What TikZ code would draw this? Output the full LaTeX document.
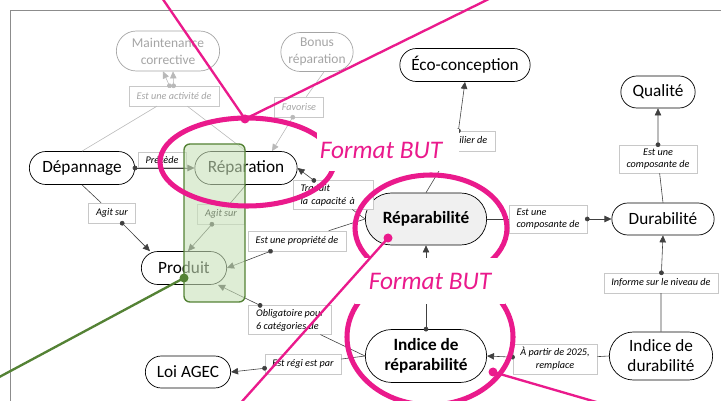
\documentclass[tikz,border=0pt]{standalone}
\usepackage{fontspec}
\setmainfont{Carlito}
\usepackage{tikz}
\usetikzlibrary{shapes.misc}
\usetikzlibrary{arrows.meta}
\definecolor{butpink}{RGB}{234,26,140}
\definecolor{boxgreen}{RGB}{84,130,53}
\definecolor{boxgreenfill}{RGB}{200,225,185}
\definecolor{framegray}{RGB}{140,140,140}
\definecolor{conceptgray}{RGB}{165,165,165}
\definecolor{linkgray}{RGB}{185,185,185}
\definecolor{lblgray}{RGB}{200,200,200}
\definecolor{repagray}{RGB}{240,240,240}
\tikzset{
  concept/.style = {rounded rectangle, draw=black, line width=0.6pt, fill=white,
    align=center, inner sep=2pt, minimum height=0.99cm,
    font=\fontsize{14.7}{17}\selectfont},% concept noir
  concept_g/.style = {concept, draw=conceptgray, text=conceptgray,
    font=\fontsize{11.5}{14.5}\selectfont},% concept gris
  concept_b/.style = {concept, font=\fontsize{14.7}{17}\selectfont\bfseries},
  lbl/.style = {rectangle, draw=lblgray, line width=0.4pt, fill=white,
    inner xsep=6.5pt, inner ysep=3pt, minimum height=0.6cm,
    font=\fontsize{8.7}{11}\selectfont\itshape},% etiquette de lien
  lbl_g/.style = {lbl, text=conceptgray},
  link/.style = {draw=black!75, line width=0.5pt, shorten <=-2pt,
    {Circle[length=4pt]}-{Triangle[length=6pt,width=5.5pt]}},
  link_g/.style = {link, draw=linkgray},
  butring/.style = {draw=butpink, line width=4.3pt},
  butline/.style = {draw=butpink, line width=2pt},
  butlbl/.style = {fill=white, text=butpink, inner sep=0.09cm,
    font=\fontsize{21.6}{24}\selectfont\itshape},
  greenbox/.style = {draw=boxgreen, line width=1.2pt, fill=boxgreenfill,
    fill opacity=0.6, rounded corners=5pt},
}

\begin{document}
\begin{tikzpicture}[x=0.03cm,y=-0.03cm]
  \useasboundingbox (0,0) rectangle (721,401);
  \clip (0,0) rectangle (721,401);
  \draw[framegray, line width=0.8pt] (10,10) rectangle (740,420);

  % concepts
  \node[concept_g, minimum width=3.24cm, minimum height=1.2cm] (maint) at (168,51) {Maintenance\\corrective};
  \node[concept_g, minimum width=2.31cm, minimum height=1.17cm] (bonus) at (317,52) {Bonus\\réparation};
  \node[concept, minimum width=3.3cm] (dep) at (82,168) {Dépannage};
  \node[concept, minimum width=3.21cm] (rep) at (246,168) {Réparation};
  \node[concept, minimum width=4.05cm] (eco) at (465,65) {Éco-conception};
  \node[concept, minimum width=2.37cm, minimum height=0.96cm] (qual) at (658,92) {Qualité};
  \node[concept_b, fill=repagray, minimum width=3.78cm, minimum height=1.56cm] (repa) at (426,219) {Réparabilité};
  \node[concept, minimum width=3.21cm, minimum height=0.96cm] (dura) at (663,219) {Durabilité};
  \node[concept_b, minimum width=3.78cm, minimum height=1.59cm] (irep) at (426,356) {Indice de\\réparabilité};
  \node[concept, minimum width=3.24cm, minimum height=1.44cm] (idur) at (661,356) {Indice de\\durabilité};
  \node[concept, minimum width=2.7cm] (prod) at (184,268) {Produit};
  \node[concept, minimum width=2.7cm, minimum height=0.96cm] (loi) at (188,372) {Loi AGEC};

  % etiquettes
  \node[lbl_g] (l_act) at (174,96) {Est une activité de};
  \node[lbl_g] (l_fav) at (299,107) {Favorise};
  \node[lbl, minimum height=0.45cm, inner ysep=1pt] (l_prec) at (162,160) {Précède};
  \node[lbl] (l_agit1) at (112,213) {Agit sur};
  \node[lbl] (l_agit2) at (221,214) {Agit sur};
  \node[lbl, align=left, text width=1.95cm] (l_trad) at (333,195) {Traduit\\la capacité à};
  \node[lbl] (l_prop) at (297,241) {Est une propriété de};
  \node[lbl] (l_pil) at (457,141) {Est un pilier de};
  \node[lbl, align=left] (l_comp2) at (548,219) {Est une\\composante de};
  \node[lbl, align=center] (l_comp1) at (658,159) {Est une\\composante de};
  \node[lbl] (l_inf) at (661,283) {Informe sur le niveau de};
  \node[lbl, align=center] (l_2025) at (555,359) {À partir de 2025,\\remplace};
  \node[lbl, align=left] (l_obl) at (290,320) {Obligatoire pour\\6 catégories de};
  \node[lbl] (l_regi) at (303,364) {Est régi est par};

  % liens gris
  \draw[link_g] (dep.north) -- (l_act) -- ([xshift=-0.15cm]maint.south);
  \draw[link_g] (rep.north) -- (l_act) -- ([xshift=0.15cm]maint.south);
  \draw[link_g] ([xshift=0.21cm]bonus.south) -- (l_fav) -- ([xshift=0.78cm]rep.north);
  % liens
  \draw[link] (dep.east) -- (rep.west);
  \draw[link] (dep.south) -- (l_agit1) -- ([xshift=-1.02cm]prod.north);
  \draw[link] (rep.south) -- (l_agit2) -- ([xshift=0.12cm]prod.north);
  \draw[link] (repa.west) -- (l_trad) -- (rep.east);
  \draw[link] (repa.west) -- (l_prop) -- (prod.east);
  \draw[link] (repa.north) -- (l_pil) -- (eco.south);
  \draw[link] (repa.east) -- (l_comp2) -- (dura.west);
  \draw[link] (dura.north) -- (l_comp1) -- (qual.south);
  \draw[link] (idur.north) -- (l_inf) -- (dura.south);
  \draw[link] (idur.west) -- (l_2025) -- (irep.east);
  \draw[link] (irep.north) -- (repa.south);
  \draw[link] (irep.west) -- (l_obl) -- ([xshift=1.02cm]prod.south);
  \draw[link] (irep.west) -- (l_regi) -- (loi.east);

  % surlignage vert
  \draw[greenbox] (184,144) rectangle (245,302);

  % annotations roses
  \draw[butring] (247,162) ellipse [x radius=2.61cm, y radius=1.32cm];
  \draw[butring] (431,228) ellipse [x radius=2.28cm, y radius=1.59cm];
  \draw[butring] (430,337) ellipse [x radius=2.49cm, y radius=2.04cm];
  \fill[white] (317,129) rectangle (459,171);
  \node[butlbl] (but1) at (381,150) {Format BUT};
  \node[butlbl, minimum width=4.5cm, minimum height=1.38cm] (but2) at (430,281) {Format BUT};

  \coordinate (p1) at (245,119);
  \coordinate (p1a) at (160,-5);
  \coordinate (p1b) at (497,-5);
  \coordinate (p2) at (388,238);
  \coordinate (p2a) at (238,406);
  \coordinate (p3) at (493,372);
  \coordinate (p3a) at (610,406);
  \draw[butline] (p1a) -- (p1) -- (p1b);
  \draw[butline] (p2) -- (p2a);
  \draw[butline] (p3) -- (p3a);
  \fill[butpink] (p1) circle [radius=0.135cm];
  \fill[butpink] (p2) circle [radius=0.135cm];
  \fill[butpink] (p3) circle [radius=0.135cm];

  \coordinate (g1) at (184,278);
  \coordinate (g1a) at (-10,382);
  \draw[boxgreen, line width=2pt] (g1) -- (g1a);
  \fill[boxgreen] (g1) circle [radius=0.135cm];
\end{tikzpicture}
\end{document}
